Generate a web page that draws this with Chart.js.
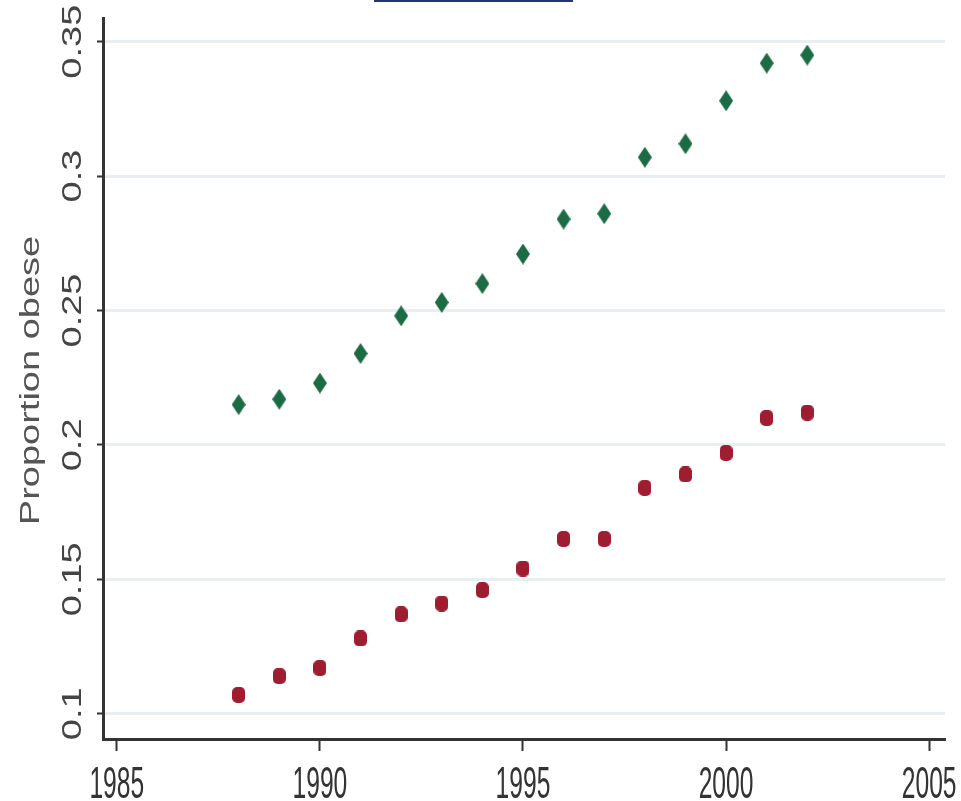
<!DOCTYPE html>
<html>
<head>
<meta charset="utf-8">
<script src="https://cdn.jsdelivr.net/npm/chart.js@4"></script>
<style>
  html, body { margin: 0; padding: 0; background: #fff; }
  #wrap { position: relative; width: 961px; height: 801px; }
  #bar { position: absolute; left: 374px; top: 0; width: 199px; height: 2px; background: #1f3a73; }
</style>
</head>
<body>
<div id="wrap">
  <canvas id="chart" width="961" height="801"></canvas>
  <div id="bar"></div>
</div>
<script>
const years = [1988, 1989, 1990, 1991, 1992, 1993, 1994, 1995, 1996, 1997, 1998, 1999, 2000, 2001, 2002];
const greenValues = [0.215, 0.217, 0.223, 0.234, 0.248, 0.253, 0.260, 0.271, 0.284, 0.286, 0.307, 0.312, 0.328, 0.342, 0.345];
const redValues = [0.107, 0.114, 0.117, 0.128, 0.137, 0.141, 0.146, 0.154, 0.165, 0.165, 0.184, 0.189, 0.197, 0.210, 0.212];
const xTicks = [1985, 1990, 1995, 2000, 2005];
const yTicks = [0.1, 0.15, 0.2, 0.25, 0.3, 0.35];
const yTickLabels = ['0.1', '0.15', '0.2', '0.25', '0.3', '0.35'];
const yTitle = 'Proportion obese';

// marker images
function diamond(color) {
  const c = document.createElement('canvas');
  c.width = 14; c.height = 21;
  const g = c.getContext('2d');
  g.fillStyle = color;
  g.beginPath();
  g.moveTo(7, 0); g.lineTo(14, 10.5); g.lineTo(7, 21); g.lineTo(0, 10.5);
  g.closePath(); g.fill();
  return c;
}
function blob(color) {
  const c = document.createElement('canvas');
  c.width = 13; c.height = 16;
  const g = c.getContext('2d');
  g.fillStyle = color;
  g.beginPath();
  g.roundRect(0, 0, 13, 16, 5);
  g.fill();
  return c;
}

// squeezed labels, the source picture was compressed sideways
const labelPlugin = {
  id: 'labels',
  afterDraw(chart) {
    const ctx = chart.ctx;
    const ys = chart.scales.y;
    const xs = chart.scales.x;
    ctx.save();
    ctx.fillStyle = '#444';
    ctx.textAlign = 'center';

    ctx.font = '38px "Liberation Sans", Arial, sans-serif';
    ctx.textBaseline = 'middle';
    yTicks.forEach((v, i) => {
      ctx.save();
      ctx.translate(73, ys.getPixelForValue(v));
      ctx.rotate(-Math.PI / 2);
      ctx.scale(1, 0.74);
      ctx.fillText(yTickLabels[i], 0, 0);
      ctx.restore();
    });

    ctx.fillStyle = '#555';
    ctx.font = '38px "Liberation Sans", Arial, sans-serif';
    ctx.save();
    ctx.translate(31, (ys.top + ys.bottom) / 2 + 2);
    ctx.rotate(-Math.PI / 2);
    ctx.scale(1, 0.72);
    ctx.fillText(yTitle, 0, 0);
    ctx.restore();

    ctx.fillStyle = '#333';
    ctx.font = '44px "Liberation Sans", Arial, sans-serif';
    ctx.textBaseline = 'alphabetic';
    xTicks.forEach(v => {
      ctx.save();
      ctx.translate(xs.getPixelForValue(v), 798);
      ctx.scale(0.56, 1);
      ctx.fillText(String(v), 0, 0);
      ctx.restore();
    });
    ctx.restore();
  }
};

const config = {
  type: 'scatter',
  data: {
    datasets: [{
      label: 'green',
      data: years.map((yr, i) => ({ x: yr, y: greenValues[i] })),
      pointStyle: diamond('#1b6b45'),
      backgroundColor: '#1b6b45'
    }, {
      label: 'red',
      data: years.map((yr, i) => ({ x: yr, y: redValues[i] })),
      pointStyle: blob('#9e1d31'),
      backgroundColor: '#9e1d31'
    }]
  },
  options: {
    responsive: false,
    animation: false,
    layout: { padding: { top: 18, right: 16, left: 0, bottom: 0 } },
    plugins: {
      legend: { display: false },
      tooltip: { enabled: false }
    },
    scales: {
      x: {
        type: 'linear',
        min: 1984.66,
        max: 2005.39,
        afterBuildTicks: s => { s.ticks = xTicks.map(v => ({ value: v })); },
        afterFit: s => { s.height = 62; s.paddingLeft = 0; s.paddingRight = 0; },
        border: { color: '#333', width: 3 },
        grid: { drawOnChartArea: false, tickLength: 12, tickColor: '#333', tickWidth: 2 },
        ticks: { display: false }
      },
      y: {
        min: 0.0906,
        max: 0.3588,
        afterBuildTicks: s => { s.ticks = yTicks.map(v => ({ value: v })); },
        afterFit: s => { s.width = 103; s.paddingTop = 0; s.paddingBottom = 0; },
        border: { color: '#333', width: 3 },
        grid: { color: '#e8eef2', lineWidth: 3, tickLength: 6, tickColor: '#333', tickWidth: 2 },
        ticks: { display: false }
      }
    }
  },
  plugins: [labelPlugin]
};

new Chart(document.getElementById('chart'), config);
</script>
</body>
</html>
